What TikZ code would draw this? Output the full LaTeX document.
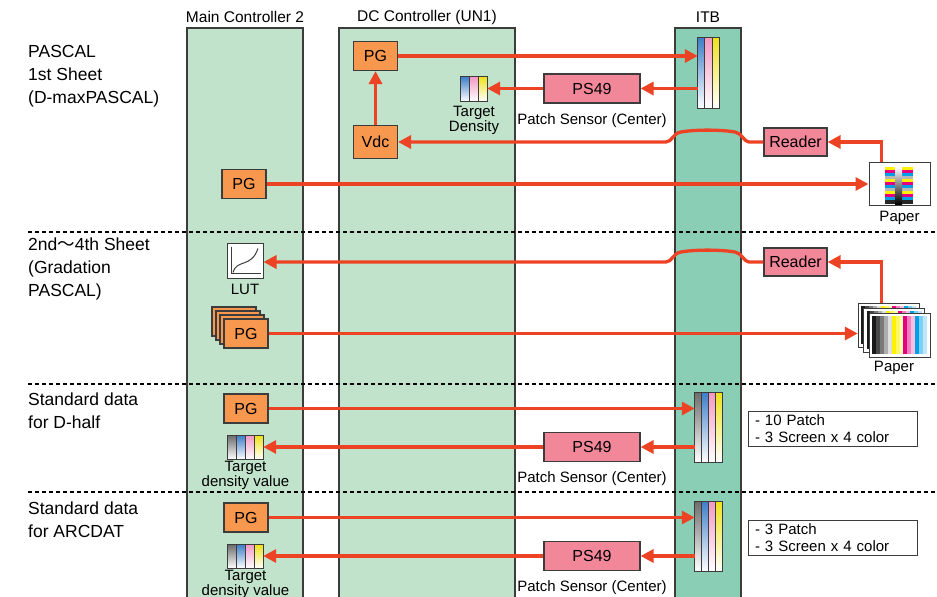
\documentclass[tikz,border=0pt]{standalone}
\usepackage{fontspec}
\setmainfont{Liberation Sans}
\newfontfamily\cjk{Noto Sans CJK JP}
\usetikzlibrary{arrows.meta,positioning,calc}

\definecolor{panelgreen}{HTML}{C2E3CB}
\definecolor{itbgreen}{HTML}{8ACFB5}
\definecolor{pgorange}{HTML}{F7984E}
\definecolor{pspink}{HTML}{F2879A}
\definecolor{flow}{HTML}{EC4325}
\definecolor{edge}{HTML}{3C3C3C}
\definecolor{barblue}{HTML}{3F7FC8}
\definecolor{barpink}{HTML}{F29AC4}
\definecolor{baryellow}{HTML}{EEE21E}
\definecolor{bargray}{HTML}{6E6E6E}
\definecolor{pcyan}{HTML}{00A0E9}
\definecolor{pmagenta}{HTML}{E4007F}
\definecolor{pyellow}{HTML}{FFF100}

\tikzset{
  panel/.style = {draw=edge, line width=1.3pt},
  pgbox/.style = {rectangle, draw=edge, line width=1.1pt, fill=pgorange,
                  minimum width=44pt, minimum height=29pt, inner sep=0pt,
                  font=\fontsize{16}{16}\selectfont},
  psbox/.style = {pgbox, fill=pspink, minimum width=96pt},
  rdbox/.style = {pgbox, fill=pspink, minimum width=63pt, minimum height=28pt},
  icon/.style  = {rectangle, inner sep=0pt},
  sheet/.style = {draw=edge, line width=1pt, fill=white},
  note/.style  = {rectangle, draw=edge, line width=1pt, fill=white, align=left,
                  text width=155pt, inner ysep=0pt, inner xsep=7pt,
                  minimum height=35pt, font=\fontsize{15}{17}\selectfont},
  hdr/.style   = {font=\fontsize{15.5}{16}\selectfont},
  side/.style  = {anchor=west, align=left, inner xsep=0pt,
                  font=\fontsize{17.5}{23}\selectfont},
  small/.style = {align=center, inner sep=0pt, font=\fontsize{15}{15}\selectfont},
  sep/.style   = {line width=1.3pt, dash pattern=on 4pt off 3pt},
  arr/.style   = {draw=flow, line width=3.3pt, -{Triangle[length=13pt,width=13pt]}}
}

% colour bars of a patch strip, shaded down to white
\newcommand{\patchbars}[3]{%
  \foreach \col [count=\i] in {#3} {
    \pgfmathsetmacro\lo{(\i-1)/#2}
    \pgfmathsetmacro\hi{\i/#2}
    \shadedraw[top color=\col, bottom color=white, draw=edge, line width=0.9pt]
      ($(#1.north west)!\lo!(#1.north east)$) rectangle
      ($(#1.south west)!\hi!(#1.south east)$);
  }}

% one gradation sheet with its columns
\newcommand{\gradsheet}[2]{%
  \draw[sheet] (#1,#2) rectangle ++(61,44);
  \foreach \col [count=\k] in {black!90,black!72,black!52,black!32,black!12,
      pyellow,pyellow!60,pyellow!30,pmagenta,pmagenta!50,pmagenta!25,
      pcyan,pcyan!50,pcyan!25}
    \fill[\col] (#1+3+3.93*\k-3.93,#2+3) rectangle ++(3.93,38);
}

\begin{document}
\begin{tikzpicture}[x=1pt,y=-1pt]
  \useasboundingbox (0,0) rectangle (937,597);
  \clip (0,0) rectangle (937,597);

  % columns
  \draw[panel, fill=panelgreen] (187,28) rectangle (303,610);
  \draw[panel, fill=panelgreen] (339,28) rectangle (515,610);
  \draw[panel, fill=itbgreen] (675,28) rectangle (741,610);
  \node[hdr] at (245,17) {Main Controller 2};
  \node[hdr] at (427,17) {DC Controller (UN1)};
  \node[hdr] at (708,17) {ITB};

  % section borders
  \foreach \y in {232,384,492}
    \draw[sep] (28,\y) -- (937,\y);

  % section titles
  \node[side] at (28,76) {PASCAL\\1st Sheet\\(D-maxPASCAL)};
  \node[side] at (28,269) {2nd{\cjk 〜}4th Sheet\\(Gradation\\PASCAL)};
  \node[side] at (28,411) {Standard data\\for D-half};
  \node[side] at (28,520) {Standard data\\for ARCDAT};

  %% PASCAL 1st sheet
  \node[pgbox] (pgdc) at (375.5,56) {PG};
  \node[pgbox, minimum height=33pt] (vdc) at (375.5,142) {Vdc};
  \node[icon, minimum width=26pt, minimum height=24pt] (tgt1) at (474,89) {};
  \patchbars{tgt1}{3}{barblue,barpink,baryellow}
  \node[small, below=5pt of tgt1] {Target\\Density};
  \node[psbox] (ps1) at (592,88.5) {PS49};
  \node[small, below=10pt of ps1] {Patch Sensor (Center)};
  \node[icon, minimum width=21pt, minimum height=70pt] (itb1) at (708.5,73) {};
  \patchbars{itb1}{3}{barblue,barpink,baryellow}
  \node[rdbox] (rd1) at (795.5,142) {Reader};
  \node[pgbox] (pg1) at (244,184) {PG};
  \node[sheet, icon, minimum width=61pt, minimum height=43pt] (paper1) at (899.5,183.5) {};
  \foreach \col [count=\r] in {pyellow,pmagenta,pcyan,bargray!50,pyellow,pmagenta,
      pcyan,bargray!50,pyellow,pmagenta,pcyan}
    \fill[\col] (885,164+3*\r) rectangle (913,167+3*\r);
  \fill[black!85] (885,200) rectangle (913,204);
  \shade[top color=white, bottom color=black] (895,167) rectangle (902,204);
  \node[small, below=5pt of paper1] {Paper};

  \draw[arr] (pgdc.east) -- (pgdc.east -| itb1.west);
  \draw[arr] (itb1.west |- ps1.east) -- (ps1.east);
  \draw[arr] (ps1.west) -- (ps1.west -| tgt1.east);
  \draw[arr] (vdc.north) -- (pgdc.south);
  \draw[arr] ([xshift=13pt]paper1.north west) |- (rd1.east);
  \draw[arr] (rd1.west) -- (749,142)
    .. controls (744,142) and (742,133) .. (735,132)
    .. controls (720,129.5) and (695,129.5) .. (681,132)
    .. controls (673,133) and (672,142) .. (666,142) -- (vdc.east);
  \draw[arr] (pg1.east) -- (pg1.east -| paper1.west);

  %% Gradation PASCAL
  \node[icon, draw=edge, line width=1pt, fill=white, minimum width=36pt,
        minimum height=35pt] (lut) at (245,260.5) {};
  \draw[edge, line width=0.9pt] ([shift={(5,4)}]lut.north west)
    |- ([shift={(-3,-5)}]lut.south east);
  \draw[edge, line width=1pt, shift={(lut.center)}]
    (-12,12) .. controls (-8,-2) and (6,8) .. (13,-12);
  \node[small, below=5pt of lut] {LUT};
  \node[rdbox] (rd2) at (795.5,262) {Reader};
  \foreach \d in {12,8,4}
    \draw[fill=pgorange, draw=edge, line width=1.1pt] (224-\d,319-\d) rectangle ++(44,29);
  \node[pgbox] (pg2) at (246,333.5) {PG};
  \node[icon, minimum width=72pt, minimum height=54pt] (paper2) at (894,330) {};
  \gradsheet{858}{303}
  \gradsheet{863.5}{308}
  \gradsheet{869}{313}
  \node[small, below=4pt of paper2] {Paper};

  \draw[arr] ([xshift=24pt]paper2.north west) |- (rd2.east);
  \draw[arr] (rd2.west) -- (749,262)
    .. controls (744,262) and (742,253) .. (735,252)
    .. controls (720,249.5) and (695,249.5) .. (681,252)
    .. controls (673,253) and (672,262) .. (666,262) -- (lut.east |- rd2.west);
  \draw[arr] (pg2.east) -- (pg2.east -| paper2.west);

  %% Standard data for D-half
  \node[pgbox] (pg3) at (246,408.5) {PG};
  \node[icon, minimum width=35pt, minimum height=23pt] (tgt3) at (245.5,447.5) {};
  \patchbars{tgt3}{4}{bargray,barblue,barpink,baryellow}
  \node[small, below=2pt of tgt3] {Target\\density value};
  \node[psbox] (ps3) at (592,447) {PS49};
  \node[small, below=9pt of ps3] {Patch Sensor (Center)};
  \node[icon, minimum width=27pt, minimum height=69pt] (itb3) at (708.5,427.5) {};
  \patchbars{itb3}{4}{bargray,barblue,barpink,baryellow}
  \node[note] (note3) at (832.5,428.5) {- 10 Patch\\- 3 Screen x 4 color};

  \draw[arr] (pg3.east) -- (pg3.east -| itb3.west);
  \draw[arr] (itb3.west |- ps3.east) -- (ps3.east);
  \draw[arr] (ps3.west) -- (ps3.west -| tgt3.east);

  %% Standard data for ARCDAT
  \node[pgbox] (pg4) at (246,517.5) {PG};
  \node[icon, minimum width=35pt, minimum height=23pt] (tgt4) at (245.5,556.5) {};
  \patchbars{tgt4}{4}{bargray,barblue,barpink,baryellow}
  \node[small, below=2pt of tgt4] {Target\\density value};
  \node[psbox] (ps4) at (592,556) {PS49};
  \node[small, below=9pt of ps4] {Patch Sensor (Center)};
  \node[icon, minimum width=27pt, minimum height=69pt] (itb4) at (708.5,536.5) {};
  \patchbars{itb4}{4}{bargray,barblue,barpink,baryellow}
  \node[note] (note4) at (832.5,537.5) {- 3 Patch\\- 3 Screen x 4 color};

  \draw[arr] (pg4.east) -- (pg4.east -| itb4.west);
  \draw[arr] (itb4.west |- ps4.east) -- (ps4.east);
  \draw[arr] (ps4.west) -- (ps4.west -| tgt4.east);
\end{tikzpicture}
\end{document}
